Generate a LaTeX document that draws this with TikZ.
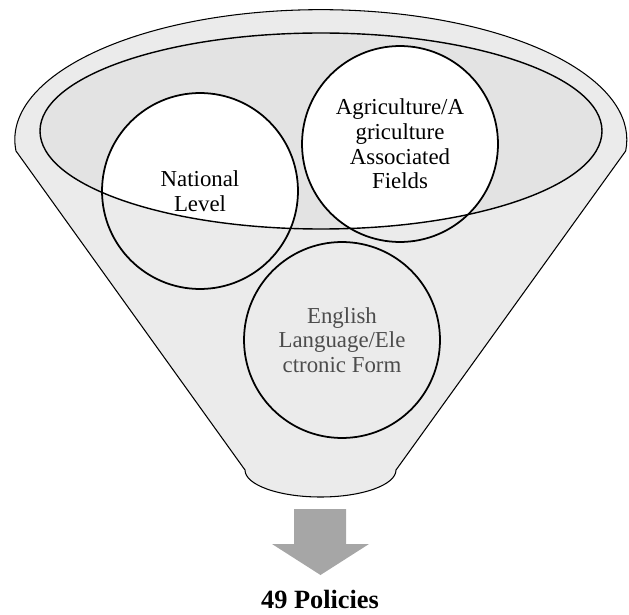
\documentclass[tikz,border=0pt]{standalone}
\usepackage{fontspec}
\setmainfont{Liberation Serif}
\usepackage{tikz}

\begin{document}
\begin{tikzpicture}[x=0.02cm, y=0.02cm,
  every node/.style={inner sep=0pt, outer sep=0pt},
  filter/.style={circle, draw=black, line width=1pt, minimum size=3.92cm, align=center, font=\fontsize{13}{14}\selectfont}]
\useasboundingbox (0,0) rectangle (629,-615);

\fill[black!8, draw=black, line width=0.6pt] (245,-470) -- (16,-151) arc[start angle=185, end angle=-5, x radius=306, y radius=130] -- (396,-470) arc[start angle=0, end angle=-180, x radius=75.5, y radius=27] -- cycle;
\fill[black!11] (321,-131) ellipse[x radius=281, y radius=98];

\coordinate (natc) at (200,-191);
\coordinate (agrc) at (400,-144);
\coordinate (engc) at (342,-340);

\begin{scope}
\clip (321,-131) ellipse[x radius=281, y radius=98];
\fill[white] (natc) circle[radius=98];
\fill[white] (agrc) circle[radius=98];
\end{scope}
\draw[line width=0.8pt] (321,-131) ellipse[x radius=281, y radius=98];

\node[filter] (nat) at (natc) {National\\Level};
\node[filter] (agr) at (agrc) {Agriculture/A\\griculture\\Associated\\Fields};
\node[filter, text=black!70] (eng) at (engc) {English\\Language/Ele\\ctronic Form};

\fill[black!35] (294,-509) -- (346,-509) -- (346,-544) -- (369,-544) -- (320.5,-575) -- (272,-544) -- (294,-544) -- cycle;
\node[anchor=base, font=\fontsize{15}{17}\selectfont\bfseries] (res) at (320,-608) {49 Policies};
\end{tikzpicture}
\end{document}
